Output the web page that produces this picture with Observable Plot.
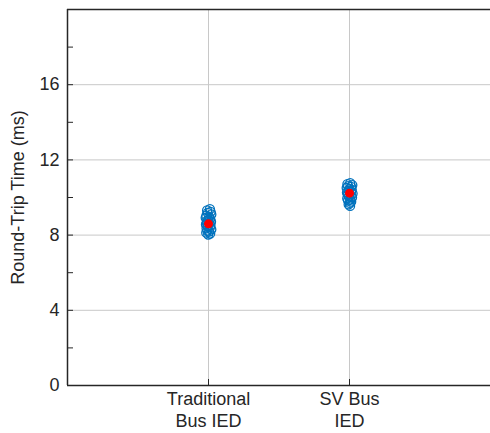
<!DOCTYPE html>
<html><head><meta charset="utf-8">
<script src="https://cdn.jsdelivr.net/npm/d3@7"></script>
<script src="https://cdn.jsdelivr.net/npm/@observablehq/plot@0.6"></script>
<style>body{margin:0;background:#fff}</style>
</head><body><div id="chart"></div>
<script>
const categories = ["Traditional\nBus IED", "SV Bus\nIED"];
const tradValues = [9.38, 9.31, 9.24, 9.18, 9.1, 9.03, 8.97, 8.92, 8.86, 8.81, 8.77, 8.71, 8.66, 8.62, 8.57, 8.52, 8.47, 8.41, 8.36, 8.3, 8.24, 8.19, 8.13, 8.08, 8.03];
const tradJitter = [0.01, -0.01, 0.015, -0.005, 0.02, -0.015, 0.005, -0.02, 0.012, 0.0, -0.01, 0.018, -0.012, 0.006, -0.018, 0.014, -0.004, 0.01, -0.014, 0.02, -0.008, 0.004, -0.016, 0.012, -0.002];
const svValues = [10.76, 10.71, 10.66, 10.6, 10.56, 10.51, 10.46, 10.41, 10.37, 10.31, 10.26, 10.21, 10.16, 10.11, 10.05, 10.0, 9.95, 9.89, 9.84, 9.78, 9.71, 9.63, 9.55];
const svJitter = [0.005, -0.015, 0.02, -0.01, 0.012, -0.02, 0.0, 0.016, -0.006, 0.01, -0.018, 0.022, -0.012, 0.008, -0.004, 0.018, -0.016, 0.006, -0.01, 0.012, 0.002, -0.006, 0.004];
const means = [8.6, 10.23];
const yTicks = [0, 4, 8, 12, 16];
const yMinorTicks = [2, 4, 6, 8, 10, 12, 14, 16, 18];

const points = [
  ...tradValues.map((v, i) => ({x: 1 + tradJitter[i], y: v})),
  ...svValues.map((v, i) => ({x: 2 + svJitter[i], y: v}))
];
const meanData = means.map((m, i) => ({x: i + 1, y: m}));

const W = 490, H = 433, mL = 67, mR = 0, mT = 9, mB = 48;
const chart = Plot.plot({
  width: W, height: H,
  marginLeft: mL, marginRight: mR, marginTop: mT, marginBottom: mB,
  style: {fontFamily: "Liberation Sans, Arial, sans-serif", fontSize: "18px", color: "#262626", background: "#fff"},
  x: {domain: [0, 3]},
  y: {domain: [0, 20]},
  marks: [
    Plot.gridY(yTicks.filter(d => d > 0), {stroke: "#c8c8c8", strokeOpacity: 1}),
    Plot.gridX([1, 2], {stroke: "#c8c8c8", strokeOpacity: 1}),
    Plot.ruleX([0], {stroke: "#262626", strokeWidth: 1.5}),
    Plot.ruleY([0, 20], {stroke: "#262626", strokeWidth: 1.5}),
    Plot.tickY(yMinorTicks, {stroke: "#262626", insetRight: W - mL - mR - 6}),
    Plot.tickX([1, 2], {stroke: "#262626", insetTop: H - mT - mB - 6}),
    Plot.axisY(yTicks, {tickSize: 0, tickPadding: 8, fontSize: 18, label: "Round-Trip Time (ms)", labelAnchor: "center", labelOffset: 56, labelArrow: "none"}),
    Plot.axisX([1, 2], {tickSize: 0, tickPadding: 4, fontSize: 18, lineHeight: 1.22, tickFormat: d => categories[d - 1], label: null}),
    Plot.dot(points, {x: "x", y: "y", r: 4.5, stroke: "#0072BD", strokeWidth: 1.3, fill: "none"}),
    Plot.dot(meanData, {x: "x", y: "y", r: 4.5, fill: "#FF0000", stroke: "none"})
  ]
});
document.getElementById("chart").appendChild(chart);
</script>
</body></html>
